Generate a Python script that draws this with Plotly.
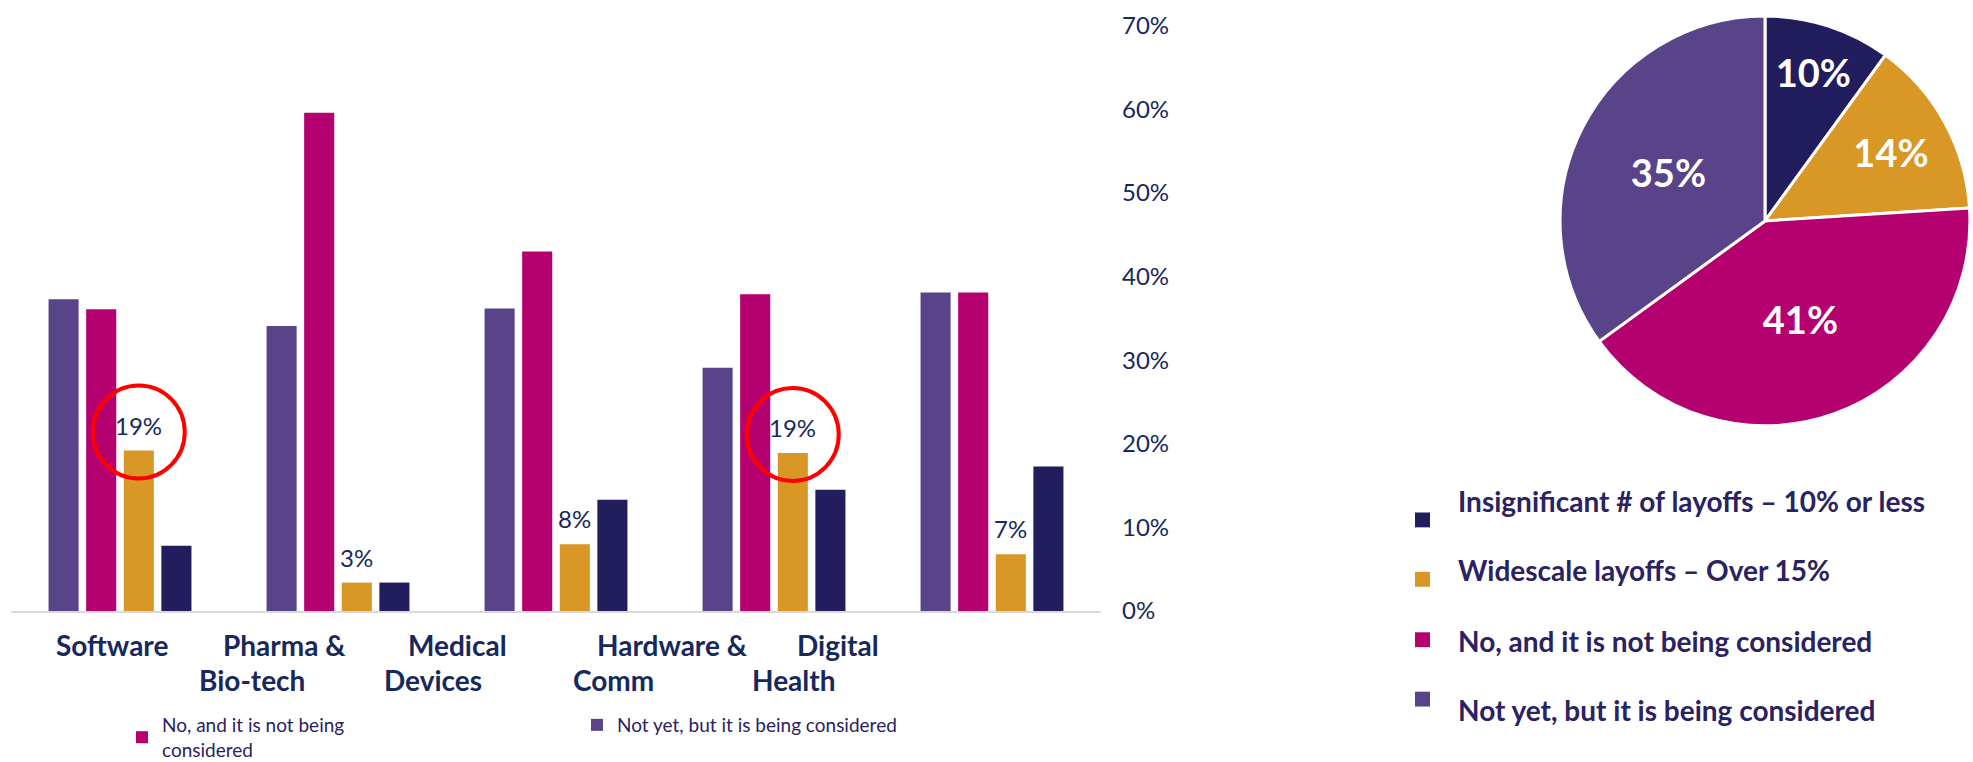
import plotly.graph_objects as go

# bar chart data (percent of respondents)
categories = ["Software", "Pharma & Bio-tech", "Medical Devices", "Hardware & Comm", "Digital Health"]
not_yet = [37.3, 34.1, 36.2, 29.1, 38.1]
no_not = [36.1, 59.6, 43.0, 37.9, 38.1]
widescale = [19.2, 3.4, 8.0, 18.9, 6.8]
insignificant = [7.8, 3.4, 13.3, 14.5, 17.3]
widescale_labels = ["19%", "3%", "8%", "19%", "7%"]
highlighted = ["Software", "Hardware & Comm"]

# label lines under the groups as they sit in the slide
cat_lines = [("Software", 1), ("Pharma &", 1), ("Bio-tech", 2), ("Medical", 1), ("Devices", 2),
             ("Hardware &", 1), ("Comm", 2), ("Digital", 1), ("Health", 2)]
cat_line_x = [112, 284, 252, 457, 433, 672, 613, 838, 793]

y_ticks = [0, 10, 20, 30, 40, 50, 60, 70]
y_tick_labels = ["0%", "10%", "20%", "30%", "40%", "50%", "60%", "70%"]

# pie data
pie_labels = ["Insignificant # of layoffs – 10% or less", "Widescale layoffs – Over 15%",
              "No, and it is not being considered", "Not yet, but it is being considered"]
pie_values = [10, 14, 41, 35]
pie_text = ["10%", "14%", "41%", "35%"]

PURPLE = "#5A4489"
MAGENTA = "#B50070"
GOLD = "#D99726"
NAVY = "#221E5E"
TXT = "#17295C"
LEG = "#2A2262"

W, H = 1973, 762
T, B = 10, 151
PH = H - T - B


def px(x):
    return x / W


def py(y):
    return (H - B - y) / PH


fig = go.Figure()
fig.add_trace(go.Bar(x=categories, y=not_yet, name="Not yet, but it is being considered",
                     marker=dict(color=PURPLE, line=dict(width=0))))
fig.add_trace(go.Bar(x=categories, y=no_not, name="No, and it is not being<br>considered",
                     marker=dict(color=MAGENTA, line=dict(width=0))))
fig.add_trace(go.Bar(x=categories, y=widescale, name="Widescale", showlegend=False,
                     marker=dict(color=GOLD, line=dict(width=0))))
fig.add_trace(go.Bar(x=categories, y=insignificant, name="Insignificant", showlegend=False,
                     marker=dict(color=NAVY, line=dict(width=0))))

fig.add_trace(go.Pie(
    labels=pie_labels, values=pie_values, text=pie_text, textinfo="text", textposition="inside",
    sort=False, direction="clockwise", rotation=0, showlegend=False,
    marker=dict(colors=[NAVY, GOLD, MAGENTA, PURPLE], line=dict(color="white", width=3)),
    textfont=dict(family="Lato", size=38, color="white", weight="bold"),
    insidetextorientation="horizontal",
    domain=dict(x=[px(1558), px(1972)], y=[py(424), py(10)]),
))

annotations = []
shapes = []
gold_off = 0.086
for i, cat in enumerate(categories):
    annotations.append(dict(x=i + gold_off, y=widescale[i], xref="x", yref="y", text=widescale_labels[i],
                            showarrow=False, yanchor="bottom", yshift=9,
                            font=dict(family="Lato", size=24, color=TXT)))
    if cat in highlighted:
        shapes.append(dict(type="circle", xref="x", yref="y", xsizemode="pixel", ysizemode="pixel",
                           xanchor=i + gold_off, yanchor=widescale[i], x0=-46, x1=46, y0=-28, y1=65,
                           line=dict(color="#FF0000", width=4)))

for (txt, line), cx in zip(cat_lines, cat_line_x):
    annotations.append(dict(x=px(cx), y=py(645 if line == 1 else 681), xref="paper", yref="paper",
                            text=txt, showarrow=False, xanchor="center", yanchor="middle",
                            font=dict(family="Lato", size=28, color=TXT, weight="bold")))

# pie legend
pie_colors = [NAVY, GOLD, MAGENTA, PURPLE]
text_y = [500, 570, 641, 711]
sq_y = [519, 579, 640, 700]
for lab, col, ty, sy in zip(pie_labels, pie_colors, text_y, sq_y):
    annotations.append(dict(x=px(1456), y=py(ty), xref="paper", yref="paper", text=lab,
                            showarrow=False, xanchor="left", yanchor="middle",
                            font=dict(family="Lato", size=28, color=LEG, weight="bold")))
    shapes.append(dict(type="rect", xref="paper", yref="paper", x0=px(1415), x1=px(1430),
                       y0=py(sy + 7.5), y1=py(sy - 7.5), fillcolor=col, line=dict(width=0)))

fig.update_layout(
    width=W, height=H,
    margin=dict(l=0, r=0, t=T, b=B),
    paper_bgcolor="white", plot_bgcolor="white",
    barmode="group", bargap=0.31, bargroupgap=0.2,
    xaxis=dict(domain=[px(11), px(1101)], showticklabels=False, ticks="",
               showline=True, linecolor="#D9D9D9", linewidth=2, showgrid=False, zeroline=False),
    yaxis=dict(domain=[0, 591 / PH], range=[0, 70], side="right", tickvals=y_ticks, ticktext=y_tick_labels,
               showgrid=False, zeroline=False, showline=False, ticks="", ticklabelstandoff=20,
               tickfont=dict(family="Lato", size=24, color=TXT)),
    legend=dict(orientation="h", xref="container", yref="container", x=122 / W, y=1 - 706 / H,
                xanchor="left", yanchor="top",
                traceorder="reversed", entrywidth=410, valign="middle",
                font=dict(family="Lato", size=19, color=LEG)),
    annotations=annotations,
    shapes=shapes,
)

fig.write_html("out.html", config={"displayModeBar": False},
               post_script="document.body.style.margin='0';")
